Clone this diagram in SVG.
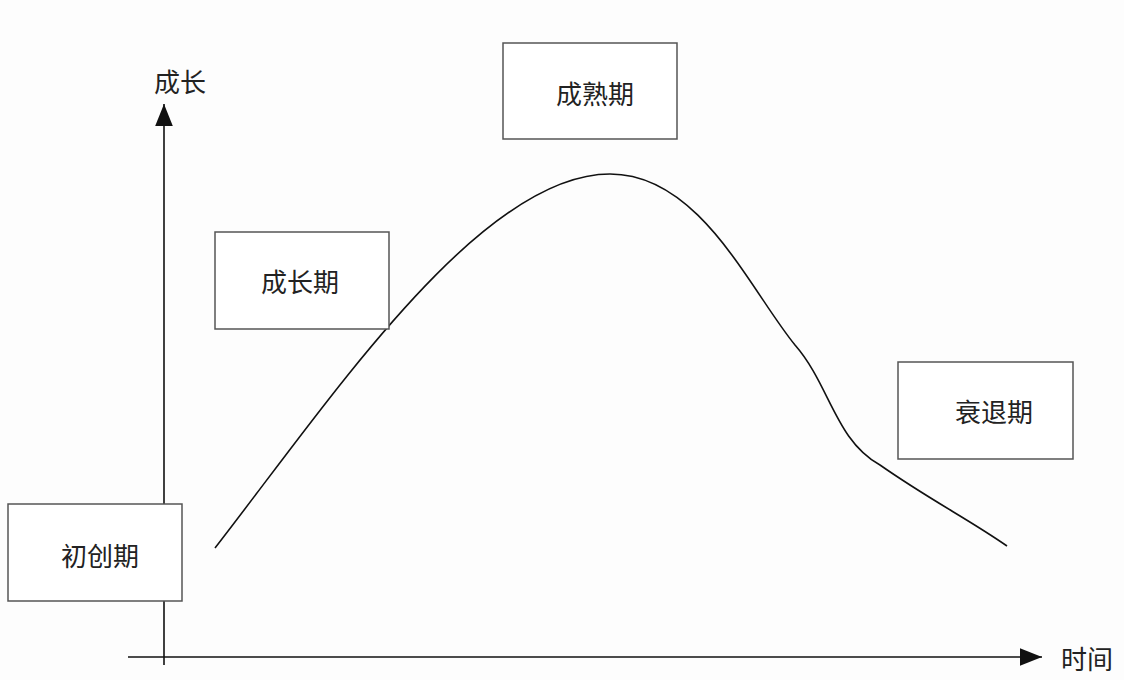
<svg xmlns="http://www.w3.org/2000/svg" width="1124" height="680" viewBox="0 0 1124 680">
<style>
text{font-family:"Noto Sans CJK SC","Noto Sans",sans-serif;font-size:26px;fill:#222;text-anchor:middle;dominant-baseline:central}
.box{fill:#fff;stroke:#555;stroke-width:1.5}
.line{fill:none;stroke:#111;stroke-width:1.6}
</style>
<defs><marker id="ah" markerWidth="12" markerHeight="12" refX="10" refY="6" orient="auto" markerUnits="userSpaceOnUse"><path d="M0,0 L22,6 L0,12Z" transform="scale(0.5,1)" fill="#111"/></marker>
<marker id="ah2" viewBox="0 0 20 16" markerWidth="22" markerHeight="18" refX="20" refY="8" orient="auto" markerUnits="userSpaceOnUse"><path d="M0,0 L20,8 L0,16Z" fill="#111"/></marker></defs>
<rect width="1124" height="680" fill="#fdfdfd"/>
<g id="connectors">
<line class="line" x1="164" y1="665" x2="164" y2="104" marker-end="url(#ah2)"/>
<line class="line" x1="128" y1="657" x2="1042" y2="657" marker-end="url(#ah2)"/>
<path class="line" d="M215,548 C330,400 480,174 610,174 C700,174 750,290 795,345 C830,385 835,440 880,465 C930,500 970,520 1007,546"/>
</g>
<text x="180" y="80">成长</text>
<text x="1087" y="657">时间</text>
<g id="n1"><rect class="box" x="8" y="504" width="174" height="97"/><text x="100" y="554">初创期</text></g>
<g id="n2"><rect class="box" x="215" y="232" width="174" height="97" stroke="#888"/><text x="300" y="280">成长期</text></g>
<g id="n3"><rect class="box" x="503" y="43" width="174" height="96"/><text x="595" y="92">成熟期</text></g>
<g id="n4"><rect class="box" x="898" y="362" width="175" height="97" stroke="#222" stroke-width="2.5"/><text x="994" y="410">衰退期</text></g>
</svg>
